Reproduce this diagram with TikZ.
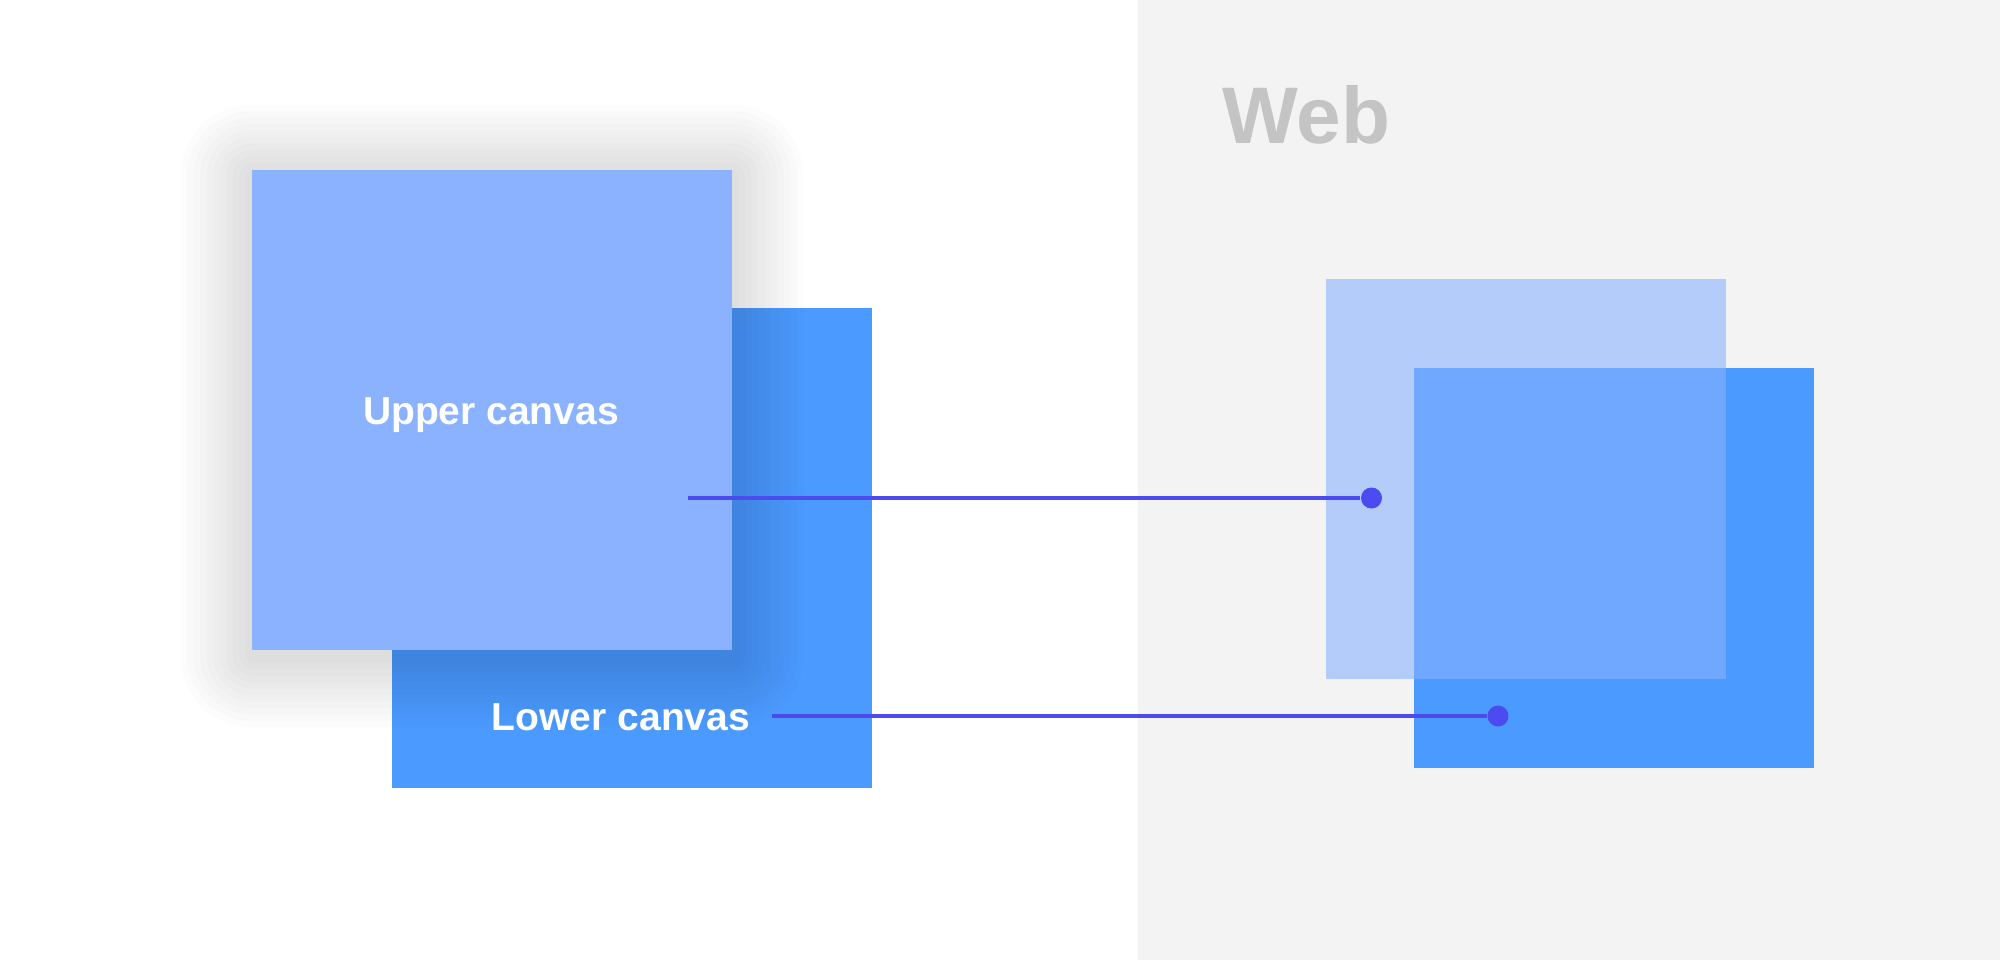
\documentclass[tikz,border=0pt]{standalone}
\usepackage{fontspec}
\setmainfont{Liberation Sans}
\usetikzlibrary{positioning}

\definecolor{fondWeb}{HTML}{F3F3F3}
\definecolor{bleuHaut}{HTML}{8AB2FF}
\definecolor{bleuBas}{HTML}{4A9AFF}
\definecolor{couleurTrait}{HTML}{4B4BF0}
\definecolor{couleurTitre}{HTML}{C4C4C4}

\tikzset{
  canevas/.style={minimum width=4.8cm,minimum height=4.8cm,inner sep=0pt,outer sep=0pt},
  canevasweb/.style={minimum width=4cm,minimum height=4cm,inner sep=0pt,outer sep=0pt},
  etiquette/.style={text=white,font=\bfseries\fontsize{11.1}{13}\selectfont,inner sep=0pt,anchor=base},
  point/.style={circle,fill=couleurTrait,inner sep=0pt,minimum size=0.21cm},
  lien/.style={draw=couleurTrait,line width=1.15pt}
}

\begin{document}
\begin{tikzpicture}[x=0.01cm,y=-0.01cm]

\useasboundingbox (0,0) rectangle (2000,960);
\fill[white] (0,0) rectangle (1138,960);
\fill[fondWeb] (1138,0) rectangle (2000,960);

%%%%%%%%%%%%%%%%%%%%%%%%
%Canevas de gauche
%%%%%%%%%%%%%%%%%%%%%%%%

\node[canevas,fill=bleuBas] (bas) at (632,548) {};

% ombre du canevas du haut
\foreach \r [evaluate=\r as \d using \r*0.065] in {1,...,11}{
  \fill[black,fill opacity=0.01,rounded corners=\d cm] ({252-6.5*\r},{176-6.5*\r}) rectangle ({732+6.5*\r},{656+6.5*\r});
}

\node[canevas,fill=bleuHaut] (haut) at (492,410) {};

\node[etiquette] (texteHaut) at (491,424) {Upper canvas};
\node[etiquette] (texteBas) at (621,730) {Lower canvas};

%%%%%%%%%%%%%%%%%%%%%%%%
%Canevas du web
%%%%%%%%%%%%%%%%%%%%%%%%

\node[couleurTitre,font=\bfseries\fontsize{22.8}{26}\selectfont,inner sep=0pt,anchor=base west] (titre) at (1222,143) {Web};

\node[canevasweb,fill=bleuBas] (webBas) at (1614,568) {};
\node[canevasweb,fill=bleuHaut,fill opacity=0.6] (webHaut) at (1526,479) {};

% liens
\coordinate (departHaut) at (688,498);
\coordinate (departBas) at (772,716);
\node[point] (pointHaut) at (1371.5,498) {};
\node[point] (pointBas) at (1498,716) {};
\draw[lien] (departHaut) -- (pointHaut);
\draw[lien] (departBas) -- (pointBas);

\end{tikzpicture}
\end{document}
